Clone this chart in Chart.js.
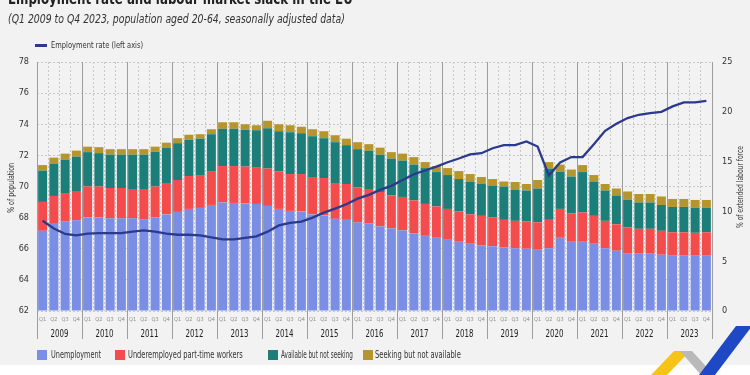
<!DOCTYPE html>
<html>
<head>
<meta charset="utf-8">
<script src="https://cdn.jsdelivr.net/npm/chart.js@4.4.1/dist/chart.umd.min.js"></script>
<style>
    body { margin: 0; width: 750px; height: 375px; background: #fff; overflow: hidden; position: relative;
           font-family: "DejaVu Sans Condensed", "DejaVu Sans", sans-serif; color: #222; }
    #panel { position: absolute; left: 0; top: 0; width: 750px; height: 365px; background: #f2f2f2; }
    .txt { position: absolute; left: 0; top: 0; white-space: nowrap; width: max-content; transform-origin: 0 50%; }
    #title { left: 8px; top: -9px; font-size: 16px; line-height: 16px; font-weight: bold; }
    #subtitle { left: 8px; top: 12px; font-size: 12px; line-height: 14px; font-style: italic; color: #333; }
    #lineMark { position: absolute; left: 35px; top: 44px; width: 12px; height: 2.5px; background: #2b3a8c; }
    #lineText { left: 51px; top: 39px; font-size: 9px; line-height: 12px; color: #333; }
    .leg { top: 349px; font-size: 10px; line-height: 12px; color: #333; }
    .sq { position: absolute; top: 350px; width: 10px; height: 10px; }
    .axt { font-size: 8.5px; line-height: 10px; color: #333; transform-origin: 50% 50%; }
    #chart { position: absolute; left: 0; top: 0; }
    #logo { position: absolute; left: 640px; top: 320px; }
</style>
</head>
<body>
<div id="panel"></div>
<canvas id="chart" width="750" height="375"></canvas>
<div id="title" class="txt" data-w="345">Employment rate and labour market slack in the EU</div>
<div id="subtitle" class="txt" data-w="337">(Q1 2009 to Q4 2023, population aged 20-64, seasonally adjusted data)</div>
<div id="lineMark"></div>
<div id="lineText" class="txt" data-w="92">Employment rate (left axis)</div>
<div class="axt txt" data-w="50" data-cx="10.5" data-cy="188">% of population</div>
<div class="axt txt" data-w="82" data-cx="740" data-cy="187">% of extended labour force</div>
<div class="sq" style="left:37px;background:#7a8ee6"></div>
<div class="leg txt" style="left:51px" data-w="50">Unemployment</div>
<div class="sq" style="left:115px;background:#f44b4c"></div>
<div class="leg txt" style="left:128px" data-w="115">Underemployed part-time workers</div>
<div class="sq" style="left:268px;background:#1c7e78"></div>
<div class="leg txt" style="left:281px" data-w="72">Available but not seeking</div>
<div class="sq" style="left:363px;background:#b6952c"></div>
<div class="leg txt" style="left:375px" data-w="86">Seeking but not available</div>
<svg id="logo" width="110" height="55" viewBox="640 320 110 55">
    <polygon points="651,375 667,375 690,351 674,351" fill="#f6c416"/>
    <polygon points="680,351 692,351 714,375 701,375" fill="#b9b9b9"/>
    <polygon points="699,375 715,375 752,326 736,326" fill="#1f49c4"/>
</svg>

<script>
// Dados do gráfico (Q1 2009 a Q4 2023)
const years = ['2009', '2010', '2011', '2012', '2013', '2014', '2015', '2016',
               '2017', '2018', '2019', '2020', '2021', '2022', '2023'];
const quarterNames = ['Q1', 'Q2', 'Q3', 'Q4'];

// % da força de trabalho alargada (eixo direito)
const unemployment = [
    8.05, 8.75, 9.0, 9.1,    9.4, 9.4, 9.3, 9.3,      9.3, 9.2, 9.4, 9.7,
    9.95, 10.25, 10.35, 10.65, 10.9, 10.85, 10.8, 10.75, 10.55, 10.25, 10.05, 10.0,
    9.7, 9.6, 9.25, 9.15,    8.9, 8.8, 8.5, 8.3,      8.1, 7.8, 7.55, 7.35,
    7.15, 6.95, 6.75, 6.6,   6.5, 6.4, 6.3, 6.25,     6.15, 6.3, 7.35, 6.95,
    6.95, 6.75, 6.3, 6.05,   5.75, 5.75, 5.75, 5.65,  5.55, 5.55, 5.55, 5.55
];
const underemployed = [
    2.9, 2.8, 2.85, 2.95,    3.1, 3.1, 3.05, 3.05,    2.95, 3.05, 3.1, 3.15,
    3.2, 3.3, 3.3, 3.4,      3.65, 3.7, 3.7, 3.7,     3.75, 3.75, 3.7, 3.75,
    3.75, 3.75, 3.6, 3.6,    3.5, 3.45, 3.45, 3.3,    3.35, 3.3, 3.2, 3.15,
    3.1, 3.05, 2.95, 2.95,   2.9, 2.75, 2.75, 2.75,   2.75, 2.85, 2.9, 2.85,
    2.95, 2.8, 2.75, 2.65,   2.65, 2.5, 2.5, 2.4,     2.35, 2.35, 2.3, 2.35
];
const availableNotSeeking = [
    3.15, 3.25, 3.35, 3.45,  3.45, 3.35, 3.35, 3.35,  3.45, 3.45, 3.5, 3.55,
    3.7, 3.65, 3.65, 3.7,    3.75, 3.75, 3.7, 3.7,    4.05, 4.05, 4.2, 4.1,
    4.1, 4.0, 4.1, 3.9,      3.85, 3.85, 3.75, 3.7,   3.65, 3.6, 3.6, 3.45,
    3.4, 3.25, 3.3, 3.25,    3.2, 3.35, 3.1, 3.1,     3.4, 5.15, 3.75, 3.7,
    4.05, 3.45, 3.05, 2.9,   2.75, 2.65, 2.65, 2.6,   2.55, 2.55, 2.5, 2.45
];
const seekingNotAvailable = [
    0.55, 0.6, 0.6, 0.6,     0.55, 0.6, 0.55, 0.55,   0.55, 0.55, 0.5, 0.5,
    0.5, 0.5, 0.45, 0.5,     0.65, 0.65, 0.55, 0.5,   0.75, 0.7, 0.7, 0.65,
    0.7, 0.7, 0.7, 0.65,     0.7, 0.65, 0.7, 0.65,    0.7, 0.75, 0.6, 0.6,
    0.7, 0.8, 0.75, 0.65,    0.65, 0.5, 0.8, 0.65,    0.85, 0.65, 0.7, 0.7,
    0.7, 0.65, 0.65, 0.7,    0.85, 0.85, 0.85, 0.85,  0.8, 0.8, 0.8, 0.8
];

// Taxa de emprego, % da população (eixo esquerdo)
const employmentRate = [
    67.8, 67.3, 66.95, 66.86,  66.97, 67.0, 67.0, 67.0,    67.1, 67.18, 67.1, 66.97,
    66.9, 66.9, 66.86, 66.73,  66.6, 66.6, 66.7, 66.8,     67.1, 67.5, 67.66, 67.74,
    68.0, 68.32, 68.58, 68.86, 69.22, 69.46, 69.78, 70.04, 70.42, 70.79, 71.03, 71.28,
    71.56, 71.8, 72.06, 72.14, 72.46, 72.66, 72.66, 72.9,  72.57, 70.71, 71.54, 71.89,
    71.89, 72.72, 73.58, 74.03, 74.4, 74.61, 74.72, 74.8,  75.15, 75.4, 75.4, 75.5
];

const leftTicks = { min: 62, max: 78, step: 2 };
const rightTicks = { min: 0, max: 25, step: 5 };

// Cores
const chartColors = {
    unemployment: '#7a8ee6',
    underemployed: '#f44b4c',
    available: '#1c7e78',
    seeking: '#b6952c',
    line: '#2b3a8c',
    grid: '#c8c8c8',
    separator: '#9d9d9d',
    text: '#333333'
};
const fontFamily = '"DejaVu Sans Condensed", "DejaVu Sans", sans-serif';

// Rótulos Q1..Q4 para cada ano
const quarterLabels = [];
years.forEach(y => quarterNames.forEach(q => quarterLabels.push(q)));

Chart.defaults.font.family = fontFamily;
Chart.defaults.color = chartColors.text;

// Ajusta a largura dos textos HTML (fonte condensada)
function fitTexts() {
    document.querySelectorAll('[data-w]').forEach(el => {
        const w = el.offsetWidth;
        const h = el.offsetHeight;
        const k = parseFloat(el.dataset.w) / w;
        if (el.dataset.cx) {
            el.style.left = (parseFloat(el.dataset.cx) - w / 2) + 'px';
            el.style.top = (parseFloat(el.dataset.cy) - h / 2) + 'px';
            el.style.transform = 'rotate(-90deg) scaleX(' + k + ')';
        } else {
            el.style.transform = 'scaleX(' + k + ')';
        }
    });
}

// Posição da fronteira entre trimestres (pela escala do gráfico)
function boundaryPixel(scale, i) {
    const step = scale.getPixelForValue(1) - scale.getPixelForValue(0);
    return scale.getPixelForValue(i) - step / 2;
}

// Eixo de anos: separadores, trimestres e anos
const yearAxisPlugin = {
    id: 'yearAxis',
    beforeDatasetsDraw(chart) {
        const { ctx, chartArea, scales } = chart;
        ctx.save();
        ctx.strokeStyle = chartColors.separator;
        ctx.lineWidth = 1;
        for (let i = 0; i <= quarterLabels.length; i += 4) {
            const px = Math.round(boundaryPixel(scales.x, i)) + 0.5;
            ctx.beginPath();
            ctx.moveTo(px, chartArea.top);
            ctx.lineTo(px, 339);
            ctx.stroke();
        }
        ctx.restore();
    },
    afterDraw(chart) {
        const { ctx, scales } = chart;
        ctx.save();
        ctx.textAlign = 'center';
        ctx.textBaseline = 'middle';
        ctx.fillStyle = '#8c8c8c';
        ctx.font = '5.5px ' + fontFamily;
        quarterLabels.forEach((q, i) => {
            ctx.fillText(q, scales.x.getPixelForValue(i), 320);
        });
        ctx.fillStyle = '#222';
        ctx.font = '10px ' + fontFamily;
        years.forEach((y, j) => {
            const cx = (boundaryPixel(scales.x, j * 4) + boundaryPixel(scales.x, j * 4 + 4)) / 2;
            ctx.save();
            ctx.translate(cx, 334);
            ctx.scale(0.78, 1);
            ctx.fillText(y, 0, 0);
            ctx.restore();
        });
        ctx.restore();
    }
};

function barSet(label, data, color) {
    return {
        label: label,
        data: data,
        backgroundColor: color,
        yAxisID: 'y1',
        stack: 'slack',
        order: 1,
        barPercentage: 0.8,
        categoryPercentage: 1
    };
}

function initChart() {
    const ctx = document.getElementById('chart');
    new Chart(ctx.getContext('2d'), {
        type: 'bar',
        data: {
            labels: quarterLabels,
            datasets: [{
                type: 'line',
                label: 'Employment rate (left axis)',
                data: employmentRate,
                yAxisID: 'y',
                borderColor: chartColors.line,
                borderWidth: 2.3,
                pointRadius: 0,
                tension: 0,
                order: 0
            },
                barSet('Unemployment', unemployment, chartColors.unemployment),
                barSet('Underemployed part-time workers', underemployed, chartColors.underemployed),
                barSet('Available but not seeking', availableNotSeeking, chartColors.available),
                barSet('Seeking but not available', seekingNotAvailable, chartColors.seeking)
            ]
        },
        options: {
            responsive: false,
            animation: false,
            layout: { padding: { top: 62, left: 1, right: 0, bottom: 64 } },
            plugins: {
                legend: { display: false },
                tooltip: { enabled: false }
            },
            scales: {
                x: {
                    stacked: true,
                    offset: true,
                    grid: {
                        offset: true,
                        drawTicks: false,
                        color: c => (c.index === undefined || c.index % 4 === 0) ? 'rgba(0,0,0,0)' : chartColors.grid
                    },
                    border: { display: false, dash: [2, 2] },
                    ticks: { display: false }
                },
                y: {
                    position: 'left',
                    min: leftTicks.min,
                    max: leftTicks.max,
                    afterFit: s => { s.width = 36; },
                    ticks: { stepSize: leftTicks.step, padding: 8, font: { size: 9 } },
                    grid: { color: chartColors.grid, drawTicks: false },
                    border: { display: false, dash: [2, 2] }
                },
                y1: {
                    position: 'right',
                    stacked: true,
                    min: rightTicks.min,
                    max: rightTicks.max,
                    afterFit: s => { s.width = 38; },
                    ticks: { stepSize: rightTicks.step, padding: 10, font: { size: 9 } },
                    grid: { drawOnChartArea: false, drawTicks: false },
                    border: { display: false }
                }
            }
        },
        plugins: [yearAxisPlugin]
    });
    fitTexts();
}

document.addEventListener('DOMContentLoaded', initChart);
</script>
</body>
</html>
